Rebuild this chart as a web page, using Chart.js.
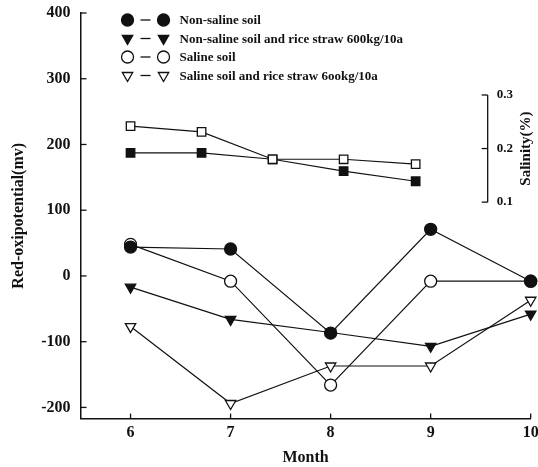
<!DOCTYPE html>
<html>
<head>
<meta charset="utf-8">
<script src="https://cdn.jsdelivr.net/npm/chart.js@4.4.0/dist/chart.umd.min.js"></script>
<style>
  html, body { margin: 0; padding: 0; background: #fff; }
  #wrap { width: 538px; height: 467px; }
</style>
</head>
<body>
<div id="wrap"><canvas id="chart"></canvas></div>
<script>
// month axis
const months = [6, 7, 8, 9, 10];
const monthTicks = [6, 7, 8, 9, 10];
const redoxTicks = [-200, -100, 0, 100, 200, 300, 400];

// red-oxipotential (mv)
const nonSaline = [44, 41, -87, 71, -8];
const nonSalineStraw = [-17, -66, -86, -107, -58];
const saline = [48, -8, -166, -8, -8];
const salineStraw = [-77, -194, -137, -137, -37];

const seriesNames = [
  "Non-saline soil",
  "Non-saline soil and rice straw 600kg/10a",
  "Saline soil",
  "Saline soil and rice straw 6ookg/10a"
];

// salinity (%) - right bracket axis
const salinityMonths = [6, 6.71, 7.42, 8.13, 8.85];
const salinityOpen = [0.242, 0.231, 0.180, 0.180, 0.171];
const salinityFilled = [0.192, 0.192, 0.180, 0.158, 0.139];
const salinityTicks = [0.1, 0.2, 0.3];

const INK = "#111";
const SERIF = "'Liberation Serif', 'DejaVu Serif', serif";

const toPts = (xs, ys) => xs.map((v, i) => ({ x: v, y: ys[i] }));

const baseSet = (label, xs, ys, style, filled, extra) => Object.assign({
  label: label,
  data: toPts(xs, ys),
  showLine: true,
  borderColor: INK,
  borderWidth: 1.2,
  pointStyle: style,
  pointRadius: 6,
  pointBorderWidth: 1.3,
  pointBorderColor: INK,
  pointBackgroundColor: filled ? INK : "#fff",
  clip: false,
  yAxisID: "y"
}, extra || {});

const datasets = [
  baseSet(seriesNames[0], months, nonSaline, "circle", true),
  baseSet(seriesNames[1], months, nonSalineStraw, "triangle", true, { pointRotation: 180 }),
  baseSet(seriesNames[2], months, saline, "circle", false),
  baseSet(seriesNames[3], months, salineStraw, "triangle", false, { pointRotation: 180 }),
  baseSet("Salinity saline", salinityMonths, salinityOpen, "rect", false, { yAxisID: "y2" }),
  baseSet("Salinity non-saline", salinityMonths, salinityFilled, "rect", true, { yAxisID: "y2" })
];

// inward ticks, salinity bracket and legend
const decorations = {
  id: "decorations",
  afterDraw(chart) {
    const { ctx, chartArea, scales } = chart;
    const x = scales.x, y = scales.y, y2 = scales.y2;
    const line = (x1, y1, x2, y2_) => {
      ctx.beginPath(); ctx.moveTo(x1, y1); ctx.lineTo(x2, y2_); ctx.stroke();
    };
    ctx.save();
    ctx.strokeStyle = INK;
    ctx.fillStyle = INK;
    ctx.lineWidth = 1.3;

    monthTicks.forEach(m => {
      const px = x.getPixelForValue(m);
      line(px, chartArea.bottom, px, chartArea.bottom - 5);
    });
    redoxTicks.forEach(v => {
      const py = y.getPixelForValue(v);
      line(chartArea.left, py, chartArea.left + 6, py);
    });

    // salinity axis
    const bx = x.getPixelForValue(9.57);
    const top = y2.getPixelForValue(salinityTicks[salinityTicks.length - 1]);
    const bot = y2.getPixelForValue(salinityTicks[0]);
    line(bx, top, bx, bot);
    ctx.font = "bold 13px " + SERIF;
    ctx.textAlign = "left";
    ctx.textBaseline = "middle";
    salinityTicks.forEach(v => {
      const py = y2.getPixelForValue(v);
      line(bx - 6, py, bx, py);
      ctx.fillText(v.toFixed(1), bx + 9, py);
    });
    ctx.save();
    ctx.translate(bx + 38, (top + bot) / 2);
    ctx.rotate(-Math.PI / 2);
    ctx.textAlign = "center";
    ctx.font = "bold 15px " + SERIF;
    ctx.fillText("Salinity(%)", 0, 0);
    ctx.restore();

    // legend
    ctx.font = "bold 13px " + SERIF;
    ctx.textAlign = "left";
    const lx = chartArea.left + 47;
    for (let i = 0; i < 4; i++) {
      const ds = datasets[i];
      const ly = chartArea.top + 7 + i * 18.5;
      const opts = { pointStyle: ds.pointStyle, radius: 6, rotation: ds.pointRotation || 0, borderWidth: 1.3 };
      ctx.fillStyle = ds.pointBackgroundColor;
      ctx.strokeStyle = INK;
      ctx.lineWidth = 1.3;
      Chart.helpers.drawPoint(ctx, opts, lx, ly);
      Chart.helpers.drawPoint(ctx, opts, lx + 36, ly);
      line(lx + 13, ly, lx + 23, ly);
      ctx.fillStyle = INK;
      ctx.fillText(ds.label, lx + 52, ly + 1);
    }
    ctx.restore();
  }
};

new Chart(document.getElementById("chart"), {
  type: "line",
  data: { datasets: datasets },
  options: {
    responsive: true,
    maintainAspectRatio: false,
    animation: false,
    layout: { padding: { left: 5, top: 13, right: 0, bottom: 0 } },
    plugins: {
      legend: { display: false },
      tooltip: { enabled: false }
    },
    scales: {
      x: {
        type: "linear",
        min: 5.5,
        max: 10,
        afterBuildTicks: (s) => { s.ticks = monthTicks.map(v => ({ value: v })); },
        afterFit: (s) => { s.paddingRight = 7; },
        grid: { display: false, drawTicks: false },
        border: { display: true, color: INK, width: 1.5 },
        ticks: { color: INK, padding: 5, font: { family: SERIF, size: 16, weight: "bold" } },
        title: {
          display: true, text: "Month", color: INK,
          padding: { top: 0, bottom: 0 },
          font: { family: SERIF, size: 16, weight: "bold" }
        }
      },
      y: {
        type: "linear",
        min: -217,
        max: 400,
        afterBuildTicks: (s) => { s.ticks = redoxTicks.map(v => ({ value: v })); },
        afterFit: (s) => { s.paddingTop = 0; s.paddingBottom = 0; },
        grid: { display: false, drawTicks: false },
        border: { display: true, color: INK, width: 1.5 },
        ticks: { color: INK, padding: 10, font: { family: SERIF, size: 16, weight: "bold" } },
        title: {
          display: true, text: "Red-oxipotential(mv)", color: INK,
          padding: { top: 4, bottom: 3 },
          font: { family: SERIF, size: 16, weight: "bold" }
        }
      },
      y2: {
        type: "linear",
        display: false,
        min: -0.304,
        max: 0.453
      }
    }
  },
  plugins: [decorations]
});
</script>
</body>
</html>
